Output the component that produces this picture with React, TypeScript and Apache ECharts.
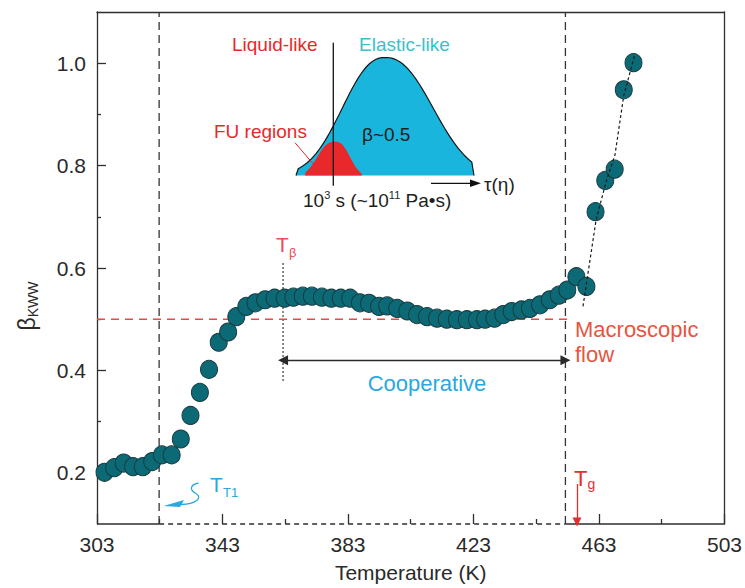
import React, { useEffect, useRef } from "react";
import * as echarts from "echarts";

// ---- data ----
const temperature = [
  305.4, 308.5, 311.5, 314.5, 317.6, 320.6, 323.7, 326.8, 329.7, 332.8,
  335.8, 338.7, 341.8, 344.8, 347.4, 350.6, 353.5, 356.6, 359.6, 362.8,
  365.6, 368.6, 371.5, 374.7, 377.7, 380.7, 383.7, 386.8, 389.7, 392.9,
  395.5, 398.7, 401.9, 405.0, 408.2, 411.4, 414.5, 417.7, 420.9, 424.1,
  426.7, 429.7, 432.5, 435.2, 438.3, 441.0, 444.2, 447.3, 450.2, 452.9,
  455.8, 459.0, 461.9, 465.0, 468.0, 470.9, 474.0,
];
const betaKWW = [
  0.201, 0.21, 0.219, 0.212, 0.212, 0.222, 0.235, 0.235, 0.266, 0.312,
  0.357, 0.402, 0.455, 0.475, 0.505, 0.525, 0.532, 0.538, 0.541, 0.541,
  0.543, 0.545, 0.545, 0.543, 0.541, 0.541, 0.541, 0.532, 0.531, 0.525,
  0.526, 0.521, 0.516, 0.509, 0.505, 0.502, 0.5, 0.499, 0.499, 0.499,
  0.5, 0.502, 0.509, 0.515, 0.518, 0.521, 0.528, 0.538, 0.547, 0.557,
  0.583, 0.564, 0.71, 0.771, 0.793, 0.948, 1.001,
];
const fitT = [457.9, 462.1, 465.3, 468.1, 470.9, 474.3];
const fitBeta = [0.525, 0.695, 0.769, 0.821, 0.937, 1.014];

const xTicks = [303, 343, 383, 423, 463, 503];
const xMinorTicks = [323, 363, 403, 443, 483];
const yTicks = [0.2, 0.4, 0.6, 0.8, 1.0];
const yMinorTicks = [0.3, 0.5, 0.7, 0.9];

const X_MIN = 303;
const X_MAX = 503;
const Y_MIN = 0.1;
const Y_MAX = 1.1;

const T_T1 = 322.8;
const T_G = 452.3;
const T_BETA = 362.3;
const T_TG_ARROW = 456.0;
const BETA_FLOW = 0.5;
const RED_LINE_END = 454.0;
const COOP_BETA = 0.42;
const T_BETA_RANGE = [0.38, 0.612];
const TG_ARROW_RANGE = [0.178, 0.104];

const FONT = "'Liberation Sans', Arial, Helvetica, sans-serif";
const AXIS_COLOR = "#2e2e2e";

// inset bell shape (schematic illustration)
function bell(cx: number, peakY: number, baseY: number, x0: number, x1: number, aL: number, aR: number, p: number) {
  const pts: number[][] = [];
  const n = 80;
  for (let i = 0; i <= n; i++) {
    const x = x0 + ((x1 - x0) * i) / n;
    const d = x - cx;
    const a = d < 0 ? aL : aR;
    let f = Math.exp(-Math.pow(Math.abs(d) / a, p));
    if (i === 0 || i === n) f = 0;
    pts.push([x, baseY - (baseY - peakY) * f]);
  }
  return pts;
}

const bluePts = bell(385, 57.5, 175.5, 296, 474, 55, 62, 2.3);
const redPts = bell(335, 141.7, 175.5, 305, 362, 21.6, 18.3, 2.6);

function seg(a: number[], b: number[]) {
  return [a, b];
}

export default function App() {
  const ref = useRef<HTMLDivElement>(null);
  useEffect(() => {
    document.body.style.margin = "0";
    const chart = echarts.init(ref.current!, undefined, { renderer: "svg" });

    const lineSeries = (data: number[][], color: string, type: any, width = 1.3, z = 2) => ({
      type: "line",
      data,
      symbol: "none",
      clip: false,
      silent: true,
      z,
      lineStyle: { color, type, width },
      animation: false,
    });

    const scatterData = temperature.map((t, i) => [t, betaKWW[i]]);
    const fitData = fitT.map((t, i) => [t, fitBeta[i]]);

    const option: any = {
      animation: false,
      grid: { left: 97, right: 18, top: 12, bottom: 60, containLabel: false },
      xAxis: [
        {
          type: "value",
          min: X_MIN,
          max: X_MAX,
          position: "bottom",
          axisLine: { show: false },
          splitLine: { show: false },
          axisTick: { show: true, inside: true, length: 10, customValues: xTicks, lineStyle: { color: AXIS_COLOR, width: 1.3 } },
          axisLabel: { customValues: xTicks, margin: 10, color: "#2a2a2a", fontSize: 21, fontFamily: FONT },
          name: "Temperature (K)",
          nameLocation: "middle",
          nameGap: 38,
          nameTextStyle: { color: "#2a2a2a", fontSize: 21, fontFamily: FONT },
        },
        {
          type: "value",
          min: X_MIN,
          max: X_MAX,
          position: "bottom",
          axisLine: { show: false },
          splitLine: { show: false },
          axisTick: { show: true, inside: true, length: 5, customValues: xMinorTicks, lineStyle: { color: AXIS_COLOR, width: 1.3 } },
          axisLabel: { show: false },
        },
        {
          type: "value",
          min: X_MIN,
          max: X_MAX,
          position: "top",
          axisLine: { show: true, lineStyle: { color: AXIS_COLOR, width: 1.3 } },
          splitLine: { show: false },
          axisTick: { show: false },
          axisLabel: { show: false },
        },
      ],
      yAxis: [
        {
          type: "value",
          min: Y_MIN,
          max: Y_MAX,
          position: "left",
          axisLine: { show: true, lineStyle: { color: AXIS_COLOR, width: 1.3 } },
          splitLine: { show: false },
          axisTick: { show: true, inside: true, length: 9, customValues: yTicks, lineStyle: { color: AXIS_COLOR, width: 1.3 } },
          axisLabel: {
            customValues: yTicks,
            margin: 11,
            color: "#2a2a2a",
            fontSize: 21,
            fontFamily: FONT,
            formatter: (v: number) => v.toFixed(1),
          },
        },
        {
          type: "value",
          min: Y_MIN,
          max: Y_MAX,
          position: "left",
          axisLine: { show: false },
          splitLine: { show: false },
          axisTick: { show: true, inside: true, length: 4, customValues: yMinorTicks, lineStyle: { color: AXIS_COLOR, width: 1.3 } },
          axisLabel: { show: false },
        },
        {
          type: "value",
          min: Y_MIN,
          max: Y_MAX,
          position: "right",
          axisLine: { show: true, lineStyle: { color: AXIS_COLOR, width: 1.3 } },
          splitLine: { show: false },
          axisTick: { show: false },
          axisLabel: { show: false },
        },
      ],
      series: [
        // bottom frame: solid / dashed / solid
        lineSeries(seg([X_MIN, Y_MIN], [T_T1, Y_MIN]), AXIS_COLOR, "solid", 1.4),
        lineSeries(seg([T_T1, Y_MIN], [T_G, Y_MIN]), AXIS_COLOR, [5, 4], 1.4),
        lineSeries(seg([T_G, Y_MIN], [X_MAX, Y_MIN]), AXIS_COLOR, "solid", 1.4),
        // vertical dashed lines
        lineSeries(seg([T_T1, Y_MIN], [T_T1, Y_MAX]), "#333", [8, 5], 1.3),
        lineSeries(seg([T_G, Y_MIN], [T_G, Y_MAX]), "#333", [8, 5], 1.3),
        // T_beta dotted
        lineSeries(seg([T_BETA, T_BETA_RANGE[0]], [T_BETA, T_BETA_RANGE[1]]), "#111", [1.5, 2.5], 1.3),
        // red dashed beta = 0.5
        lineSeries(seg([X_MIN, BETA_FLOW], [RED_LINE_END, BETA_FLOW]), "#e84a45", [8, 6], 1.4),
        // cooperative arrow + Tg arrow
        {
          type: "line",
          data: [],
          silent: true,
          markLine: {
            silent: true,
            animation: false,
            label: { show: false },
            data: [
              [
                { coord: [T_BETA, COOP_BETA], symbol: "triangle", symbolSize: 10, lineStyle: { color: "#2a2a2a", width: 1.3, type: "solid" } },
                { coord: [T_G, COOP_BETA], symbol: "triangle", symbolSize: 10 },
              ],
              [
                { coord: [T_TG_ARROW, TG_ARROW_RANGE[0]], symbol: "none", lineStyle: { color: "#e52d2d", width: 1.3, type: "solid" } },
                { coord: [T_TG_ARROW, TG_ARROW_RANGE[1]], symbol: "triangle", symbolSize: 9 },
              ],
            ],
          },
        },
        {
          type: "scatter",
          data: scatterData,
          symbol: "circle",
          symbolSize: [17, 18],
          z: 3,
          itemStyle: { color: "#0b6a76", borderColor: "#173b40", borderWidth: 1, opacity: 1 },
        },
        lineSeries(fitData, "#1a1a1a", [3, 2.5], 1.2, 4),
      ],
      graphic: [
        // y axis title
        {
          type: "text",
          x: 27,
          y: 306,
          rotation: Math.PI / 2,
          style: {
            text: "{b|β}{s|KWW}",
            align: "center",
            verticalAlign: "middle",
            fill: "#2a2a2a",
            rich: {
              b: { fontSize: 23, fontFamily: FONT, fill: "#2a2a2a", lineHeight: 26, verticalAlign: "middle" },
              s: { fontSize: 14, fontFamily: FONT, fill: "#2a2a2a", verticalAlign: "bottom" },
            },
          },
        },
        // inset
        { type: "polygon", shape: { points: bluePts }, style: { fill: "#1ab5dc" } },
        { type: "polyline", shape: { points: bluePts }, style: { stroke: "#151515", lineWidth: 1.2, fill: null } },
        { type: "polygon", shape: { points: redPts }, style: { fill: "#e8282b" } },
        { type: "line", shape: { x1: 333.3, y1: 42.7, x2: 333.3, y2: 185.7 }, style: { stroke: "#111", lineWidth: 1.3 } },
        { type: "line", shape: { x1: 295, y1: 142.7, x2: 313.3, y2: 164 }, style: { stroke: "#e8282b", lineWidth: 1 } },
        { type: "line", shape: { x1: 431, y1: 183.3, x2: 472, y2: 183.3 }, style: { stroke: "#111", lineWidth: 1.3 } },
        { type: "polygon", shape: { points: [[481, 183.3], [470, 179.5], [470, 187.1]] }, style: { fill: "#111" } },
        { type: "text", x: 232, y: 44, style: { text: "Liquid-like", fill: "#e8282b", fontSize: 19, fontFamily: FONT, verticalAlign: "middle" } },
        { type: "text", x: 359, y: 44, style: { text: "Elastic-like", fill: "#3cc1cb", fontSize: 19, fontFamily: FONT, verticalAlign: "middle" } },
        { type: "text", x: 214, y: 131, style: { text: "FU regions", fill: "#e8282b", fontSize: 19, fontFamily: FONT, verticalAlign: "middle" } },
        { type: "text", x: 362, y: 134, style: { text: "β~0.5", fill: "#1e1e1e", fontSize: 19, fontFamily: FONT, verticalAlign: "middle" } },
        { type: "text", x: 484, y: 184, style: { text: "τ(η)", fill: "#1e1e1e", fontSize: 19, fontFamily: FONT, verticalAlign: "middle" } },
        {
          type: "text",
          x: 303,
          y: 200,
          style: {
            text: "{n|10}{p|3}{n| s (~10}{p|11}{n| Pa•s)}",
            verticalAlign: "middle",
            fill: "#1e1e1e",
            rich: {
              n: { fontSize: 19, fontFamily: FONT, fill: "#1e1e1e", lineHeight: 22 },
              p: { fontSize: 11, fontFamily: FONT, fill: "#1e1e1e", verticalAlign: "top" },
            },
          },
        },
        // annotations
        { type: "text", x: 427, y: 383, style: { text: "Cooperative", fill: "#2aa8e0", fontSize: 22, fontFamily: FONT, align: "center", verticalAlign: "middle" } },
        { type: "text", x: 575, y: 329, style: { text: "Macroscopic", fill: "#e8553f", fontSize: 22, fontFamily: FONT, verticalAlign: "middle" } },
        { type: "text", x: 575, y: 354, style: { text: "flow", fill: "#e8553f", fontSize: 22, fontFamily: FONT, verticalAlign: "middle" } },
        { type: "text", x: 276, y: 244, style: { text: "T", fill: "#ef4a57", fontSize: 21, fontFamily: FONT, verticalAlign: "middle" } },
        { type: "text", x: 289, y: 252, style: { text: "β", fill: "#ef4a57", fontSize: 13, fontFamily: FONT, verticalAlign: "middle" } },
        { type: "text", x: 574, y: 478, style: { text: "T", fill: "#e62e2e", fontSize: 22, fontFamily: FONT, verticalAlign: "middle" } },
        { type: "text", x: 587.5, y: 484, style: { text: "g", fill: "#e62e2e", fontSize: 14, fontFamily: FONT, verticalAlign: "middle" } },
        { type: "text", x: 210, y: 484, style: { text: "T", fill: "#2aa8e0", fontSize: 21, fontFamily: FONT, verticalAlign: "middle" } },
        { type: "text", x: 223, y: 492.5, style: { text: "T1", fill: "#2aa8e0", fontSize: 13, fontFamily: FONT, verticalAlign: "middle" } },
        {
          type: "bezierCurve",
          shape: { x1: 198.5, y1: 483, cpx1: 189, cpy1: 485, cpx2: 190, cpy2: 490.5, x2: 196, y2: 493.5 },
          style: { stroke: "#2aa8e0", lineWidth: 1.3, fill: null },
        },
        {
          type: "bezierCurve",
          shape: { x1: 196, y1: 493.5, cpx1: 203, cpy1: 498, cpx2: 196, cpy2: 504, x2: 181, y2: 504.5 },
          style: { stroke: "#2aa8e0", lineWidth: 1.3, fill: null },
        },
        { type: "polygon", shape: { points: [[163.5, 506], [184, 500], [180, 507]] }, style: { fill: "#2aa8e0" } },
      ],
    };
    chart.setOption(option);
    return () => chart.dispose();
  }, []);
  return <div ref={ref} style={{ width: 745, height: 588 }} />;
}
